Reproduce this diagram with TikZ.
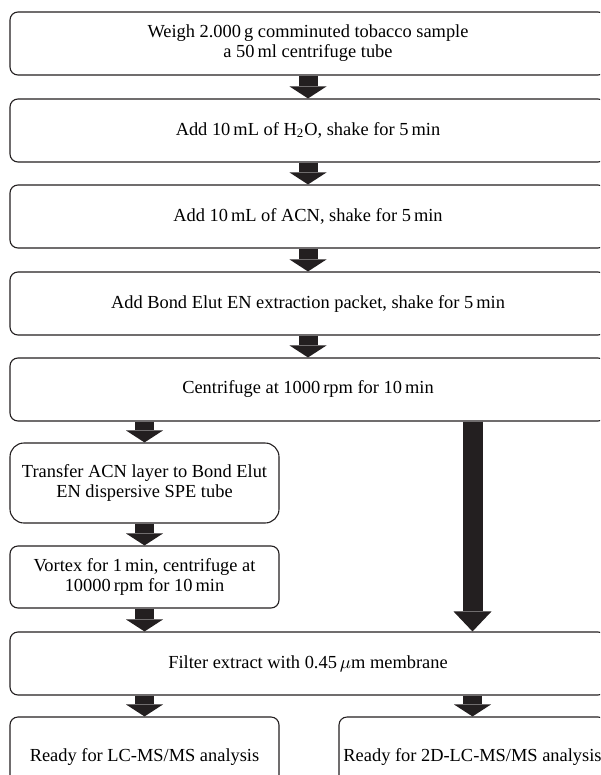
\documentclass[tikz,border=0pt]{standalone}
\usepackage{fontspec}
\setmainfont{Liberation Serif}
\usetikzlibrary{arrows.meta}
\definecolor{inkgray}{RGB}{35,31,32}

\begin{document}
\begin{tikzpicture}[x=0.5pt,y=-0.5pt,
  every node/.style={font=\fontsize{9.2}{10}\selectfont},
  stepbox/.style={draw=inkgray,line width=0.55pt,rounded corners=4pt,align=center,inner sep=0pt,
    minimum width=298pt,minimum height=31.5pt},
  sidebox/.style={stepbox,minimum width=134.5pt},
  flow/.style={draw=inkgray,line width=9.5pt,-{Triangle[width=18.5pt,length=6pt,line width=0pt]}},
  longflow/.style={flow,line width=10pt,-{Triangle[width=19pt,length=10pt,line width=0pt]}}]
  \useasboundingbox (0,0) rectangle (600,775);
  \clip (0,0) rectangle (600,775);
  \node[stepbox] (weigh) at (308,43.5) {Weigh 2.000\,g comminuted tobacco sample\\a 50\,ml centrifuge tube};
  \node[stepbox] (water) at (308,130.5) {Add 10\,mL of H\textsubscript{2}O, shake for 5\,min};
  \node[stepbox] (acn) at (308,216.5) {Add 10\,mL of ACN, shake for 5\,min};
  \node[stepbox] (packet) at (308,303.5) {Add Bond Elut EN extraction packet, shake for 5\,min};
  \node[stepbox] (centri) at (308,389.5) {Centrifuge at 1000\,rpm for 10\,min};
  \node[sidebox,minimum height=40pt,rounded corners=7pt] (transfer) at (144.5,483)
    {Transfer ACN layer to Bond Elut\\EN dispersive SPE tube};
  \node[sidebox,minimum height=31pt] (vortex) at (144.5,577)
    {Vortex for 1\,min, centrifuge at\\10000\,rpm for 10\,min};
  \node[stepbox] (filter) at (308,663.5) {Filter extract with 0.45\,$\mu$m membrane};
  \node[sidebox,minimum height=40pt] (ready1) at (144.5,757) {Ready for LC-MS/MS analysis};
  \node[sidebox,minimum width=133.5pt,minimum height=40pt] (ready2) at (472.5,757) {Ready for 2D-LC-MS/MS analysis};

  \draw[flow] (weigh) -- (water);
  \draw[flow] (water) -- (acn);
  \draw[flow] (acn) -- (packet);
  \draw[flow] (packet) -- (centri);
  \draw[flow] (centri.south -| transfer) -- (transfer);
  \draw[flow] (transfer) -- (vortex);
  \draw[flow] (vortex) -- (vortex |- filter.north);
  \draw[longflow] (centri.south -| ready2) -- (filter.north -| ready2);
  \draw[flow] (filter.south -| ready1) -- (ready1);
  \draw[flow] (filter.south -| ready2) -- (ready2);
\end{tikzpicture}
\end{document}
